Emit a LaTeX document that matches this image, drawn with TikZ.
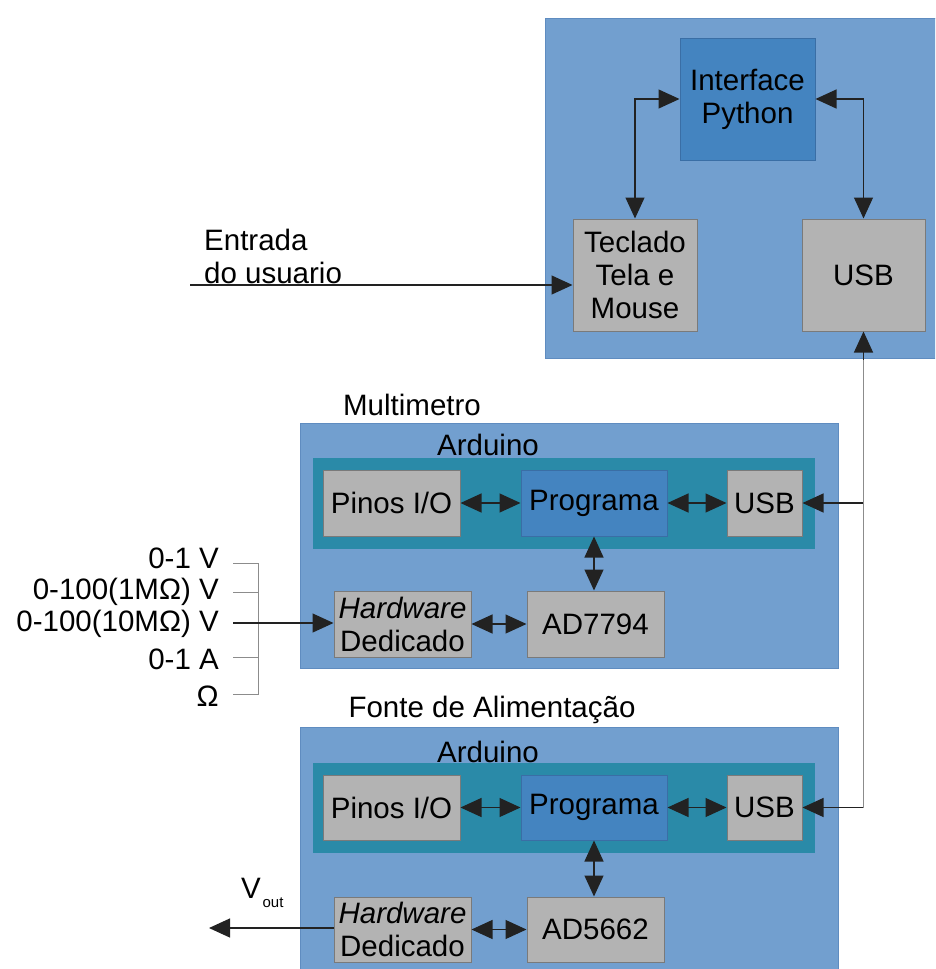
\documentclass[tikz,border=0pt]{standalone}
\usepackage{fontspec}
\setmainfont{Liberation Sans}
\usetikzlibrary{arrows.meta,calc}
\definecolor{panelc}{HTML}{729FCF}
\definecolor{panelb}{HTML}{5F8CC0}
\definecolor{progc}{HTML}{4484C0}
\definecolor{progb}{HTML}{3A6EA5}
\definecolor{tealc}{HTML}{2A8AA8}
\definecolor{boxc}{HTML}{B3B3B3}
\definecolor{boxb}{HTML}{7A7A7A}
\definecolor{linec}{HTML}{222222}
\definecolor{grayline}{HTML}{8C8C8C}
\begin{document}
\begin{tikzpicture}[x=1pt,y=-1pt,
  font=\fontsize{29.5}{33}\selectfont,
  >={Triangle[length=21pt 0 1,width=19pt 0 1]},
  panel/.style={draw=panelb,fill=panelc,line width=1pt,inner sep=0pt},
  tealbox/.style={draw=none,fill=tealc,inner sep=0pt},
  gbox/.style={draw=boxb,fill=boxc,line width=1pt,inner sep=0pt,align=center},
  pbox/.style={draw=progb,fill=progc,line width=1pt,inner sep=0pt,align=center},
  conn/.style={draw=linec,line width=1.2pt},
  thin/.style={draw=grayline,line width=1pt},
  lbl/.style={inner sep=0pt,align=center}
]
\useasboundingbox (0,0) rectangle (935,969);
\clip (0,0) rectangle (935,969);

% ---------------- top panel (PC) ----------------
\node[panel,minimum width=392pt,minimum height=340pt] (pc) at (741,188) {};
\node[pbox,minimum width=135pt,minimum height=122pt] (py) at (747.5,99) {Interface\\Python};
\node[gbox,minimum width=124pt,minimum height=112pt] (tec) at (635,275) {Teclado\\Tela e\\Mouse};
\node[gbox,minimum width=123pt,minimum height=112pt] (usbt) at (863.5,275) {USB};
\draw[conn,<->] (tec.north) |- (py.west);
\draw[conn,<->] (py.east) -| (usbt.north);

\node[lbl,anchor=west,align=left] (ent) at (204,256) {Entrada\\do usuario};
\coordinate (ein) at (190,285);
\draw[conn,->] (ein) -- (ein -| tec.west);

% ---------------- Multimetro ----------------
\node[lbl] (mtit) at (412,405) {Multimetro};
\node[panel,minimum width=538pt,minimum height=245pt] (mp) at (569,545.5) {};
\node[tealbox,minimum width=502pt,minimum height=91pt] (mt) at (564,503.5) {};
\node[lbl] (mard) at (488,445) {Arduino};
\node[gbox,minimum width=137pt,minimum height=66pt] (mpin) at (391.5,503) {Pinos I/O};
\node[pbox,minimum width=146pt,minimum height=66pt] (mprog) at (594,503) {Programa};
\node[gbox,minimum width=75pt,minimum height=66pt] (musb) at (764.5,503) {USB};
\node[gbox,minimum width=137pt,minimum height=66pt] (mhw) at (402.5,624) {\textit{Hardware}\\Dedicado};
\node[gbox,minimum width=137pt,minimum height=66pt] (mad) at (595.5,624) {AD7794};
\draw[conn,<->] (mpin) -- (mprog);
\draw[conn,<->] (mprog) -- (musb);
\draw[conn,<->] (mprog.south) -- (mprog.south |- mad.north);
\draw[conn,<->] (mhw) -- (mad);

% input ranges
\node[lbl,anchor=east] (r1) at (219,558) {0-1 V};
\node[lbl,anchor=east] (r2) at (219,592) {0-100(1MΩ) V};
\node[lbl,anchor=east] (r3) at (219,624) {0-100(10MΩ) V};
\node[lbl,anchor=east] (r4) at (219,659) {0-1 A};
\node[lbl,anchor=east] (r5) at (219,696) {Ω};
\coordinate (t1) at (233,563);
\coordinate (t2) at (233,592);
\coordinate (t3) at (233,623);
\coordinate (t4) at (233,657);
\coordinate (t5) at (233,694);
\coordinate (bx) at (258,563);
\draw[thin] (t1) -| (bx |- t5) -- (t5);
\draw[thin] (t2) -- (t2 -| bx);
\draw[thin] (t4) -- (t4 -| bx);
\draw[conn,->] (t3) -- (t3 -| mhw.west);

% ---------------- Fonte de Alimentacao ----------------
\node[lbl] (ftit) at (492,710) {Fonte de Alimentação};
\node[panel,minimum width=538pt,minimum height=270pt] (fp) at (569,862) {};
\node[tealbox,minimum width=502pt,minimum height=90pt] (ft) at (564,808) {};
\node[lbl] (fard) at (488,752) {Arduino};
\node[gbox,minimum width=137pt,minimum height=65pt] (fpin) at (391.5,807.5) {Pinos I/O};
\node[pbox,minimum width=146pt,minimum height=65pt] (fprog) at (594,807.5) {Programa};
\node[gbox,minimum width=75pt,minimum height=65pt] (fusb) at (764.5,807.5) {USB};
\node[gbox,minimum width=137pt,minimum height=65pt] (fhw) at (402.5,929.5) {\textit{Hardware}\\Dedicado};
\node[gbox,minimum width=137pt,minimum height=65pt] (fad) at (595.5,929.5) {AD5662};
\draw[conn,<->] (fpin) -- (fprog);
\draw[conn,<->] (fprog) -- (fusb);
\draw[conn,<->] (fprog.south) -- (fprog.south |- fad.north);
\draw[conn,<->] (fhw) -- (fad);

\coordinate (vend) at (209,928);
\draw[conn,->] (vend -| fhw.west) -- (vend);
\node[lbl] (vv) at (251,888) {V};
\node[lbl,font=\fontsize{15}{16}\selectfont] (vsub) at (273,903) {out};

% ---------------- USB bus ----------------
\coordinate (j1) at (863,503);
\draw[thin,line width=1.2pt] (fusb.east) -| (usbt.south);
\draw[conn,->] (fusb.east) ++(60,0) -- (fusb.east);
\draw[conn,->] (usbt.south) ++(0,28) -- (usbt.south);
\draw[conn,->] (j1) -- (musb.east);
\end{tikzpicture}
\end{document}
